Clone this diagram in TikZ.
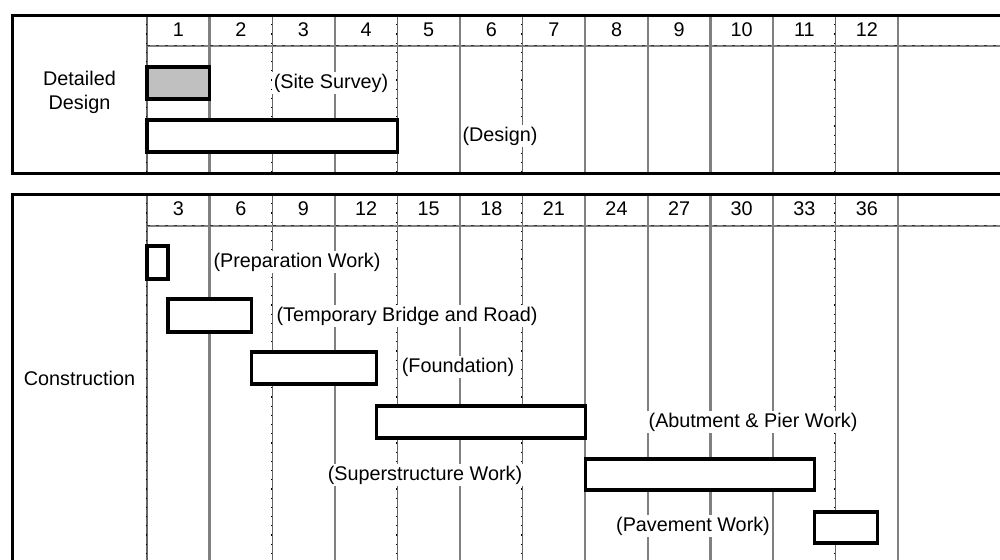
\documentclass[tikz,border=0pt]{standalone}
\usepackage{fontspec}
\setmainfont{Liberation Sans}
\definecolor{gridgray}{RGB}{128,128,128}
\definecolor{barfill}{RGB}{192,192,192}
\begin{document}
\begin{tikzpicture}[x=0.5pt,y=-0.5pt,
  frame/.style={line width=1.5pt,black},
  gline/.style={line width=1.2pt,gridgray},
  dline/.style={line width=0.7pt,black!60},
  ticks/.style={black,line width=0.6pt,dash pattern=on 0.6pt off 4pt},
  hticks/.style={black!80,line width=0.4pt,dash pattern=on 1.5pt off 3pt},
  bar/.style={line width=1.65pt,black,fill=white},
  lbl/.style={font=\fontsize{9.9}{12}\selectfont,fill=white,inner sep=1pt},
  hdr/.style={font=\fontsize{9.9}{12}\selectfont,inner sep=0pt},
]
\useasboundingbox (0,0) rectangle (1000,559);
\clip (0,0) rectangle (1000,559);
\def\cw{62.6}
% ---------- top box ----------
\foreach \k in {1,3,5,7,8,9,10,12}{
  \draw[gline] ({147+\cw*\k},15) -- ({147+\cw*\k},173);
}
\foreach \k in {0,2,4,6,11}{
  \draw[dline] ({147+\cw*\k},15) -- ({147+\cw*\k},173);
  \draw[ticks] ({147+\cw*\k-0.8},15) -- ({147+\cw*\k-0.8},173);
}
\draw[gline] (147,46) -- (1000,46);
\draw[hticks] (147,45.5) -- (1000,45.5);
\draw[frame] (1000,15) -- (12,15) -- (12,173) -- (1000,173);
\foreach \n [count=\i from 0] in {1,...,12}{
  \node[hdr] (t\n) at ({147+\cw*\i+\cw/2},30) {\n};
}
\node[hdr,align=center] (dd) at (79.5,92) {Detailed\\Design};
\draw[bar,fill=barfill] (147,67) rectangle (209.6,99);
\draw[bar] (147,120) rectangle (397.4,152);
\node[lbl] (ss) at (331,83) {(Site Survey)};
\node[lbl] (ds) at (500,136) {(Design)};
% ---------- bottom box ----------
\foreach \k in {1,3,5,7,8,9,10,12}{
  \draw[gline] ({147+\cw*\k},194) -- ({147+\cw*\k},565);
}
\foreach \k in {0,2,4,6,11}{
  \draw[dline] ({147+\cw*\k},194) -- ({147+\cw*\k},565);
  \draw[ticks] ({147+\cw*\k-0.8},194) -- ({147+\cw*\k-0.8},565);
}
\draw[gline] (147,226) -- (1000,226);
\draw[hticks] (147,225.5) -- (1000,225.5);
\draw[frame] (1000,194) -- (12,194) -- (12,565);
\foreach \n [count=\i from 0] in {3,6,...,36}{
  \node[hdr] (c\n) at ({147+\cw*\i+\cw/2},209) {\n};
}
\node[hdr] (con) at (79.5,378) {Construction};
\def\mo{20.867}
\draw[bar] (147,246) rectangle ({147+\mo*1},279);
\draw[bar] ({147+\mo*1},299) rectangle ({147+\mo*5},332);
\draw[bar] ({147+\mo*5},352) rectangle ({147+\mo*11},384);
\draw[bar] ({147+\mo*11},406) rectangle ({147+\mo*21},438);
\draw[bar] ({147+\mo*21},459) rectangle ({147+\mo*32},490);
\draw[bar] ({147+\mo*32},512) rectangle ({147+\mo*35},543);
\node[lbl] (pw) at (297,262) {(Preparation Work)};
\node[lbl] (tb) at (407,316) {(Temporary Bridge and Road)};
\node[lbl] (fd) at (458,367) {(Foundation)};
\node[lbl] (ap) at (753,422) {(Abutment \& Pier Work)};
\node[lbl] (sw) at (425,475) {(Superstructure Work)};
\node[lbl] (pv) at (693,526) {(Pavement Work)};
\end{tikzpicture}
\end{document}
